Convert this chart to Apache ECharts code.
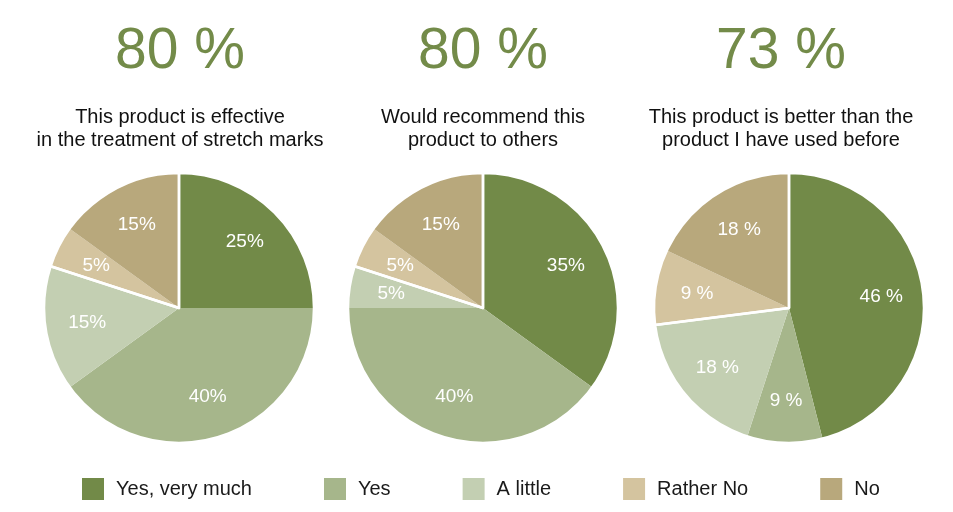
<!DOCTYPE html>
<html>
<head>
<meta charset="utf-8">
<title>Product survey</title>
<script src="https://cdn.jsdelivr.net/npm/echarts@6/dist/echarts.min.js"></script>
<style>
  html, body { margin: 0; padding: 0; background: #fff; }
  #main { width: 953px; height: 512px; }
</style>
</head>
<body>
<div id="main"></div>
<script>
// answer categories (legend order)
var categories = ['Yes, very much', 'Yes', 'A little', 'Rather No', 'No'];
var colors = ['#728a48', '#a6b68b', '#c3cfb2', '#d4c49f', '#b8a87c'];

// one array per question, in %
var effective = [25, 40, 15, 5, 15];
var recommend = [35, 40, 5, 5, 15];
var better = [46, 9, 18, 9, 18];

var headline = ['80 %', '80 %', '73 %'];
var questions = [
  'This product is effective\nin the treatment of stretch marks',
  'Would recommend this\nproduct to others',
  'This product is better than the\nproduct I have used before'
];
var labelSuffix = ['%', '%', ' %'];

var FONT = "'Liberation Sans', Arial, sans-serif";
var pies = [effective, recommend, better];
var pieX = [179, 483, 789];
var textX = [180, 483, 781];
var pieY = 308;
var R = 135;

var chart = echarts.init(document.getElementById('main'));

var series = [];
var graphics = [];

pies.forEach(function (vals, p) {
  var data = vals.map(function (v, i) {
    return { name: categories[i], value: v, itemStyle: { color: colors[i] } };
  });
  // filled slices
  series.push({
    type: 'pie',
    center: [pieX[p], pieY],
    radius: [0, R],
    startAngle: 90,
    clockwise: true,
    data: data,
    label: { show: false },
    labelLine: { show: false },
    itemStyle: { borderWidth: 0 },
    emphasis: { disabled: true },
    silent: true
  });
  // white divider between positive and negative answers
  var pos = vals[0] + vals[1] + vals[2];
  var neg = vals[3] + vals[4];
  series.push({
    type: 'pie',
    center: [pieX[p], pieY],
    radius: [0, R],
    startAngle: 90,
    data: [{ name: 'pos', value: pos }, { name: 'neg', value: neg }],
    itemStyle: { color: 'rgba(0,0,0,0)', borderColor: '#fff', borderWidth: 2.5 },
    label: { show: false },
    labelLine: { show: false },
    emphasis: { disabled: true },
    silent: true,
    z: 3
  });
  // value labels
  series.push({
    type: 'pie',
    center: [pieX[p], pieY],
    radius: [45, R],
    startAngle: 90,
    data: vals.map(function (v, i) { return { name: categories[i] + ' ', value: v }; }),
    itemStyle: { color: 'rgba(0,0,0,0)' },
    label: {
      show: true,
      position: 'inside',
      color: '#fff',
      fontFamily: FONT,
      fontSize: 19,
      formatter: function (d) { return d.value + labelSuffix[p]; }
    },
    labelLine: { show: false },
    emphasis: { disabled: true },
    silent: true,
    z: 4
  });

  graphics.push({
    type: 'text',
    x: textX[p],
    y: 52,
    style: {
      text: headline[p],
      font: '57px ' + FONT,
      fill: '#738b49',
      textAlign: 'center',
      textVerticalAlign: 'middle'
    }
  });
  graphics.push({
    type: 'text',
    x: textX[p],
    y: 129,
    style: {
      text: questions[p],
      font: '20px ' + FONT,
      lineHeight: 23,
      fill: '#111',
      textAlign: 'center',
      textVerticalAlign: 'middle'
    }
  });
});

var option = {
  backgroundColor: '#fff',
  animation: false,
  legend: {
    data: categories,
    left: 77,
    top: 473,
    itemWidth: 22,
    itemHeight: 22,
    itemGap: 72,
    icon: 'rect',
    selectedMode: false,
    textStyle: { fontFamily: FONT, fontSize: 20, color: '#1a1a1a', padding: [0, 0, 0, 7] }
  },
  graphic: graphics,
  series: series
};

chart.setOption(option);
</script>
</body>
</html>
